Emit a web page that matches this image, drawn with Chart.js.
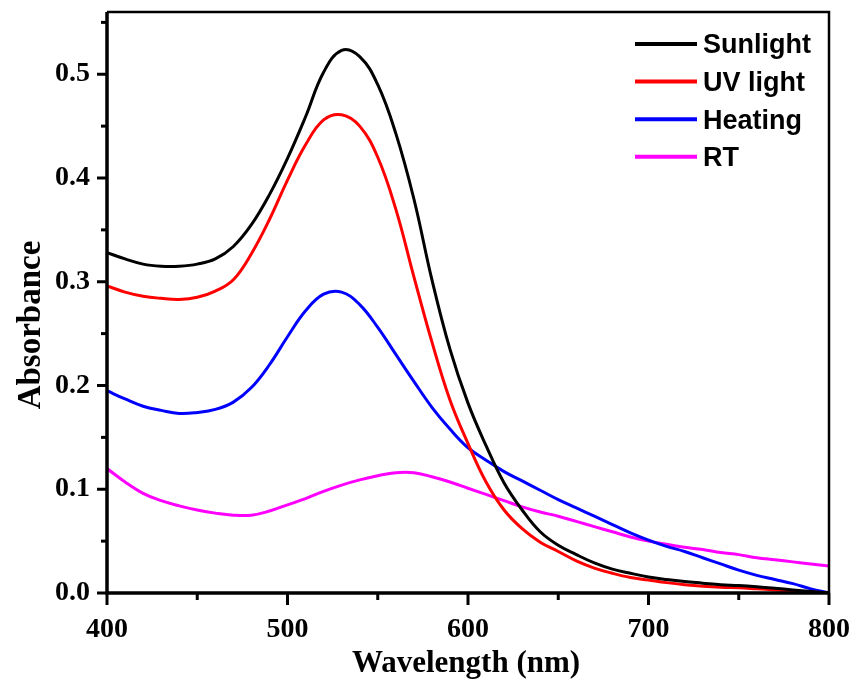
<!DOCTYPE html>
<html>
<head>
<meta charset="utf-8">
<script src="https://cdn.jsdelivr.net/npm/chart.js@4.4.1/dist/chart.umd.min.js"></script>
<style>
  html, body { margin: 0; padding: 0; background: #fff; }
  #wrap { width: 857px; height: 679px; }
</style>
</head>
<body>
<div id="wrap"><canvas id="spectra" width="857" height="679"></canvas></div>
<script>
// Absorbance spectra, one value every 10 nm
const wavelengths = [400, 410, 420, 430, 440, 450, 460, 470, 480, 490,
                     500, 510, 520, 530, 540, 550, 560, 570, 580, 590,
                     600, 610, 620, 630, 640, 650, 660, 670, 680, 690,
                     700, 710, 720, 730, 740, 750, 760, 770, 780, 790, 800];

const sunlight = [0.328, 0.322, 0.317, 0.315, 0.315, 0.317, 0.322, 0.334, 0.355, 0.384,
                  0.419, 0.459, 0.502, 0.523, 0.517, 0.490, 0.443, 0.380, 0.302, 0.235,
                  0.183, 0.142, 0.106, 0.080, 0.059, 0.046, 0.037, 0.029, 0.023, 0.019,
                  0.0155, 0.013, 0.011, 0.0095, 0.008, 0.0072, 0.006, 0.0045, 0.003, 0.0015, 0.0];

const uvLight = [0.296, 0.290, 0.286, 0.284, 0.283, 0.285, 0.291, 0.302, 0.327, 0.360,
                 0.398, 0.432, 0.456, 0.461, 0.450, 0.420, 0.370, 0.305, 0.242, 0.186,
                 0.144, 0.107, 0.080, 0.062, 0.049, 0.040, 0.031, 0.024, 0.019, 0.015,
                 0.0125, 0.010, 0.008, 0.0065, 0.0055, 0.005, 0.004, 0.003, 0.002, 0.001, 0.0];

const heating = [0.195, 0.187, 0.180, 0.176, 0.173, 0.174, 0.177, 0.184, 0.198, 0.220,
                 0.247, 0.272, 0.288, 0.290, 0.278, 0.256, 0.230, 0.204, 0.179, 0.158,
                 0.140, 0.128, 0.117, 0.108, 0.099, 0.090, 0.082, 0.074, 0.066, 0.058,
                 0.051, 0.045, 0.040, 0.034, 0.028, 0.022, 0.017, 0.013, 0.009, 0.004, 0.0];

const roomTemp = [0.120, 0.107, 0.096, 0.089, 0.084, 0.080, 0.077, 0.075, 0.075, 0.079,
                  0.085, 0.091, 0.098, 0.104, 0.109, 0.113, 0.116, 0.116, 0.112, 0.107,
                  0.101, 0.095, 0.089, 0.083, 0.078, 0.074, 0.069, 0.064, 0.059, 0.054,
                  0.050, 0.047, 0.044, 0.042, 0.039, 0.037, 0.034, 0.032, 0.030, 0.028, 0.026];

const seriesNames = ['Sunlight', 'UV light', 'Heating', 'RT'];
const seriesColors = ['#000000', '#ff0000', '#0000ff', '#ff00ff'];
const xMajorTicks = [400, 500, 600, 700, 800];
const yMajorTicks = [0.0, 0.1, 0.2, 0.3, 0.4, 0.5];

const tickFont = { family: '"Liberation Serif", "Times New Roman", serif', size: 28, weight: 'bold' };

function toPoints(values) {
    return values.map((v, i) => ({ x: wavelengths[i], y: v }));
}

// keep the plot box where the figure has it, whatever the edge labels want
function fixScale(s, size) {
    if (s.isHorizontal()) s.height = size; else s.width = size;
    s.paddingTop = 0;
    s.paddingBottom = 0;
    s.paddingLeft = 0;
    s.paddingRight = 0;
}

// Frame, outward ticks (major + minor), axis titles and the legend box
const framePlugin = {
    id: 'frame',
    afterDraw(chart) {
        const { ctx, chartArea: a, scales: { x, y } } = chart;
        ctx.save();
        ctx.strokeStyle = '#000';

        // ticks
        ctx.lineWidth = 3;
        for (let v = 400; v <= 800; v += 50) {
            const px = x.getPixelForValue(v);
            const len = v % 100 === 0 ? 12 : 7;
            ctx.beginPath();
            ctx.moveTo(px, a.bottom);
            ctx.lineTo(px, a.bottom + len);
            ctx.stroke();
        }
        for (let k = 0; k <= 11; k++) {
            const py = y.getPixelForValue(k * 0.05);
            const len = k % 2 === 0 ? 10 : 6;
            ctx.beginPath();
            ctx.moveTo(a.left, py);
            ctx.lineTo(a.left - len, py);
            ctx.stroke();
        }

        // box
        ctx.lineWidth = 2.5;
        ctx.beginPath();
        ctx.moveTo(a.left, a.top);
        ctx.lineTo(a.right, a.top);
        ctx.lineTo(a.right, a.bottom);
        ctx.stroke();
        ctx.lineWidth = 3.5;
        ctx.beginPath();
        ctx.moveTo(a.left, a.top);
        ctx.lineTo(a.left, a.bottom);
        ctx.lineTo(a.right + 1, a.bottom);
        ctx.stroke();

        // axis titles
        ctx.fillStyle = '#000';
        ctx.textAlign = 'center';
        ctx.textBaseline = 'alphabetic';
        ctx.font = 'bold 31px "Liberation Serif", "Times New Roman", serif';
        ctx.fillText('Wavelength (nm)', (a.left + a.right) / 2 - 2, 672);
        ctx.save();
        ctx.translate(40, 325);
        ctx.rotate(-Math.PI / 2);
        ctx.font = 'bold 33px "Liberation Serif", "Times New Roman", serif';
        ctx.fillText('Absorbance', 0, 0);
        ctx.restore();

        // legend
        ctx.font = 'bold 27px "Liberation Sans", Arial, sans-serif';
        ctx.textAlign = 'left';
        ctx.textBaseline = 'middle';
        chart.data.datasets.forEach((ds, i) => {
            const ly = a.top + 32 + i * 37.6;
            const lx = a.right - 194;
            ctx.strokeStyle = ds.borderColor;
            ctx.lineWidth = 4;
            ctx.beginPath();
            ctx.moveTo(lx, ly);
            ctx.lineTo(lx + 62, ly);
            ctx.stroke();
            ctx.fillStyle = '#000';
            ctx.fillText(ds.label, lx + 68, ly + 2);
        });
        ctx.restore();
    }
};

const datasets = [sunlight, uvLight, heating, roomTemp].map((vals, i) => ({
    label: seriesNames[i],
    data: toPoints(vals),
    borderColor: seriesColors[i],
    borderWidth: 3,
    pointRadius: 0,
    fill: false,
    tension: 0.4
}));

new Chart(document.getElementById('spectra'), {
    type: 'line',
    data: { datasets },
    options: {
        responsive: false,
        animation: false,
        layout: { padding: { top: 12, right: 28, left: 0, bottom: 0 } },
        plugins: { legend: { display: false }, tooltip: { enabled: false } },
        scales: {
            x: {
                type: 'linear',
                min: 400,
                max: 800,
                afterFit: s => fixScale(s, 86),
                afterBuildTicks: s => { s.ticks = xMajorTicks.map(v => ({ value: v })); },
                grid: { display: false, drawTicks: false },
                border: { display: false },
                ticks: { padding: 20, color: '#000', font: tickFont, maxRotation: 0 }
            },
            y: {
                min: 0,
                max: 0.56,
                afterFit: s => fixScale(s, 107),
                afterBuildTicks: s => { s.ticks = yMajorTicks.map(v => ({ value: v })); },
                grid: { display: false, drawTicks: false },
                border: { display: false },
                ticks: {
                    padding: 17,
                    color: '#000',
                    font: tickFont,
                    callback: v => Number(v).toFixed(1)
                }
            }
        }
    },
    plugins: [framePlugin]
});
</script>
</body>
</html>
